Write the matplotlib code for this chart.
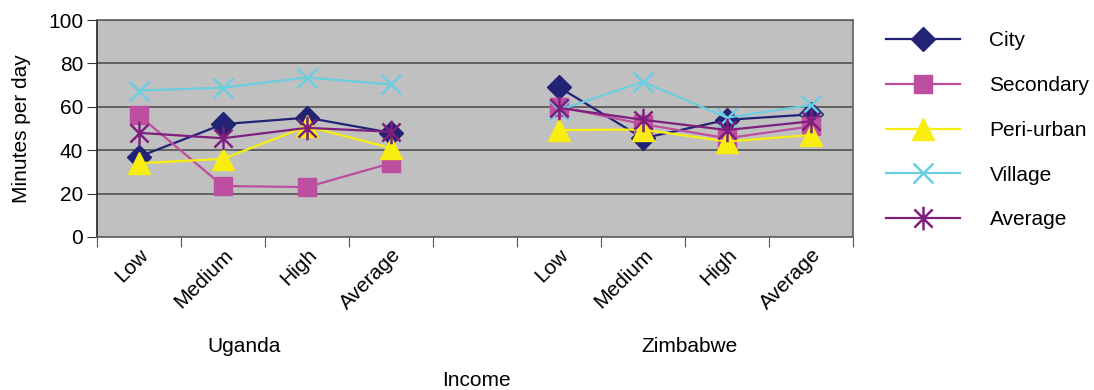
import matplotlib.pyplot as plt
import numpy as np
from matplotlib.path import Path

plt.rcParams['font.family'] = ['Liberation Sans', 'DejaVu Sans']

# income groups per country, with an empty slot between the two countries
income = ['Low', 'Medium', 'High', 'Average', '', 'Low', 'Medium', 'High', 'Average']
countries = ['Uganda', 'Zimbabwe']

nan = np.nan
city = [37, 52, 55, 48, nan, 69, 45.5, 54, 56.5]
secondary = [56, 23.5, 23, 34, nan, 60, 52, 45.5, 51]
peri_urban = [34, 36, 51, 41, nan, 49.3, 49.5, 44, 47]
village = [67.5, 68.8, 73.5, 70.3, nan, 58.5, 71.5, 55, 60.8]
average = [48, 45.5, 50.3, 48.5, nan, 59.5, 54, 49.3, 53.3]

# asterisk: an X with a vertical bar through it
asterisk = Path([(-1, -1), (1, 1), (-1, 1), (1, -1), (0, -1.3), (0, 1.3)],
                [Path.MOVETO, Path.LINETO, Path.MOVETO, Path.LINETO, Path.MOVETO, Path.LINETO])

series = [
    ('City', city, '#232375', 'D', 12),
    ('Secondary', secondary, '#BC4FA0', 's', 13),
    ('Peri-urban', peri_urban, '#F7EE0F', '^', 16),
    ('Village', village, '#6BCEE0', 'x', 14),
    ('Average', average, '#7E1F7E', asterisk, 17),
]

fs = 15

fig = plt.figure(figsize=(10.94, 3.9), dpi=100)
ax = fig.add_axes([97 / 1094, 153 / 390, 756 / 1094, 217 / 390])
ax.set_facecolor('#C0C0C0')

x = np.arange(len(income))
for name, vals, color, marker, ms in series:
    thin = marker == 'x' or marker is asterisk
    ax.plot(x, vals, color=color, lw=1.6, marker=marker, markersize=ms,
            markeredgewidth=1.8 if thin else 1, label=name)

ax.set_xlim(-0.5, len(income) - 0.5)
ax.set_ylim(0, 100)
ax.set_yticks(np.arange(0, 101, 20))
ax.yaxis.grid(True, color='#5A5A5A', lw=1.3)
ax.set_axisbelow(True)

ax.set_xticks(np.arange(-0.5, len(income), 1))
ax.set_xticklabels([])
ax.set_xticks([i for i in x if income[i]], minor=True)
ax.set_xticklabels([c for c in income if c], minor=True, rotation=45,
                   ha='right', va='top', rotation_mode='anchor', fontsize=fs)
ax.tick_params(axis='x', which='minor', length=0, pad=6)
ax.tick_params(axis='x', which='major', length=7, color='#555555')
ax.tick_params(axis='y', length=7, labelsize=fs, color='#333333', pad=3)
for s in ax.spines.values():
    s.set_color('#606060')
    s.set_linewidth(1.2)
ax.spines['left'].set_color('#222222')

ax.set_ylabel('Minutes per day', fontsize=fs, labelpad=12)

fig.text(244 / 1094, 1 - 347 / 390, countries[0], ha='center', va='center', fontsize=fs)
fig.text(690 / 1094, 1 - 347 / 390, countries[1], ha='center', va='center', fontsize=fs)
fig.text(476 / 1094, 1 - 380 / 390, 'Income', ha='center', va='center', fontsize=fs)

fig.legend(loc='upper left', bbox_to_anchor=(878 / 1094, 1 - 23 / 390), frameon=False,
           fontsize=fs, handlelength=3.55, handletextpad=1.4, labelspacing=1.235,
           borderaxespad=0)

fig.savefig('out.png', dpi=100)
